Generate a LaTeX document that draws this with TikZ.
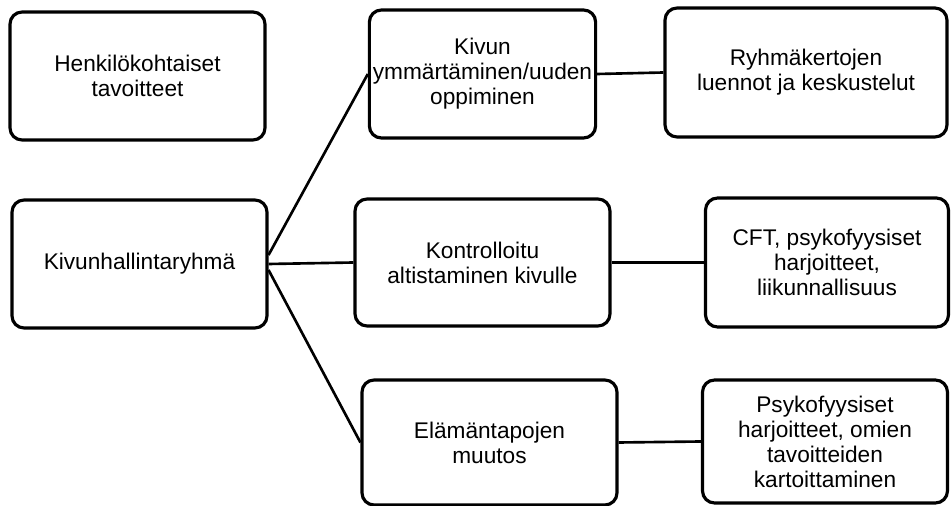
\documentclass[tikz,border=0pt]{standalone}
\usepackage{fontspec}
\setmainfont{Liberation Sans}
\usepackage{tikz}
\tikzset{
  box/.style={draw,line width=1.8pt,rounded corners=0.24cm,align=center,inner sep=2pt,font=\fontsize{12.9}{14.2}\selectfont},
  link/.style={line width=1.5pt}
}

\begin{document}
\begin{tikzpicture}[x=0.02cm,y=-0.02cm]
\useasboundingbox (0,0) rectangle (951,506);
% left column
\node[box,minimum width=5.1cm,minimum height=2.56cm] (goals) at (137.5,76) {Henkilökohtaiset\\tavoitteet};
\node[box,minimum width=5.1cm,minimum height=2.56cm] (group) at (139.5,264) {Kivunhallintaryhmä};
% middle column
\node[box,minimum width=4.5cm,minimum height=2.56cm] (understand) at (482.5,74) {Kivun\\ymmärtäminen/uuden\\oppiminen};
\node[box,minimum width=5.1cm,minimum height=2.54cm] (exposure) at (482.5,262.5) {Kontrolloitu\\altistaminen kivulle};
\node[box,minimum width=5.1cm,minimum height=2.5cm] (lifestyle) at (489.5,442.5) {Elämäntapojen\\muutos};
% right column
\node[box,minimum width=5.64cm,minimum height=2.58cm] (lectures) at (806,72.5) {Ryhmäkertojen\\luennot ja keskustelut};
\node[box,minimum width=4.86cm,minimum height=2.58cm] (cft) at (827,262.5) {CFT, psykofyysiset\\harjoitteet,\\liikunnallisuus};
\node[box,minimum width=4.9cm,minimum height=2.46cm] (psycho) at (825,441.5) {Psykofyysiset\\harjoitteet, omien\\tavoitteiden\\kartoittaminen};
% connectors
\draw[link] ([yshift=0.18cm]group.east) -- (understand.west);
\draw[link] (group.east) -- (exposure.west);
\draw[link] ([yshift=-0.12cm]group.east) -- (lifestyle.west);
\draw[link] (understand.east) -- (lectures.west);
\draw[link] (exposure.east) -- (cft.west);
\draw[link] (lifestyle.east) -- (psycho.west);
\end{tikzpicture}
\end{document}
